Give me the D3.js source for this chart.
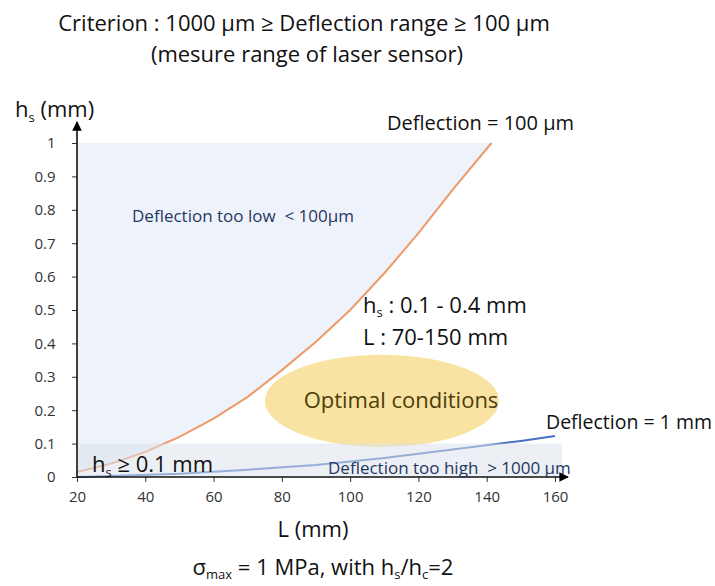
<!DOCTYPE html>
<html><head><meta charset="utf-8">
<script src="https://cdn.jsdelivr.net/npm/d3@7"></script>
<style>
body{margin:0;background:#fff;}
text{font-family:"Open Sans","Lato",sans-serif;white-space:pre;}
</style></head>
<body><svg id="c" width="715" height="586"></svg>
<script>
// ---- data ----
const xTicks = [20, 40, 60, 80, 100, 120, 140, 160];
const yTicks = [0, 0.1, 0.2, 0.3, 0.4, 0.5, 0.6, 0.7, 0.8, 0.9, 1];
const yTickLabels = ["0", "0.1", "0.2", "0.3", "0.4", "0.5", "0.6", "0.7", "0.8", "0.9", "1"];
const L100 = [20, 30, 40, 50, 60, 70, 80, 90, 100, 110, 120, 130, 141.4];
const hs100 = [0.015, 0.04, 0.075, 0.12, 0.175, 0.24, 0.32, 0.405, 0.5, 0.61, 0.73, 0.86, 1.0];
const L1mm = [20, 50, 70, 90, 110, 130, 150, 160];
const hs1mm = [0.0, 0.01, 0.022, 0.036, 0.057, 0.082, 0.108, 0.123];
const bandLimit = 0.1;
const optimal = {L: 109.3, hs: 0.228, dL: 34.3, dHs: 0.138};

const svg = d3.select("#c");
const x = d3.scaleLinear().domain([20, 160]).range([77, 555]);
const y = d3.scaleLinear().domain([0, 1]).range([477, 143]);

// light blue region (deflection too low)
const d100 = L100.map((l, i) => ({l, h: hs100[i]}));
svg.append("path").datum(d100)
  .attr("fill", "#eef3fb")
  .attr("d", d3.area().x(d => x(d.l)).y0(d => y(d.h)).y1(y(1)));

// ellipse
svg.append("ellipse")
  .attr("cx", x(optimal.L)).attr("cy", y(optimal.hs))
  .attr("rx", x(optimal.L + optimal.dL) - x(optimal.L))
  .attr("ry", y(0) - y(optimal.dHs))
  .attr("fill", "#f8e3a3");

// curves
const line = d3.line().x(d => x(d.l)).y(d => y(d.h));
svg.append("path").datum(d100).attr("fill", "none")
  .attr("stroke", "#ee9a68").attr("stroke-width", 2).attr("d", line);
const d1 = L1mm.map((l, i) => ({l, h: hs1mm[i]}));
svg.append("path").datum(d1).attr("fill", "none")
  .attr("stroke", "#4472c4").attr("stroke-width", 2).attr("d", line);

// gray band (too high)
svg.append("rect").attr("x", x(20)).attr("y", y(bandLimit))
  .attr("width", x(162) - x(20)).attr("height", y(0) - y(bandLimit))
  .attr("fill", "#dde2ea").attr("opacity", 0.55);

// axes
const xAxis = d3.axisBottom(x).tickValues(xTicks).tickSize(5).tickSizeOuter(0);
const gx = svg.append("g").attr("transform", `translate(0,${y(0)})`).call(xAxis);
gx.select(".domain").remove();
gx.selectAll("text").style("font-size", "15px").attr("fill", "#333").attr("dy", "1.15em");
const yAxis = d3.axisLeft(y).tickValues(yTicks).tickFormat((d, i) => yTickLabels[i]).tickSize(5).tickSizeOuter(0);
const gy = svg.append("g").attr("transform", `translate(${x(20)},0)`).call(yAxis);
gy.select(".domain").remove();
gy.selectAll("text").style("font-size", "15px").attr("fill", "#333").attr("dx", "-0.9em");
svg.selectAll(".tick line").attr("stroke", "#333");

svg.append("defs").append("marker").attr("id", "arr").attr("viewBox", "0 0 10 10")
  .attr("refX", 9).attr("refY", 5).attr("markerWidth", 6).attr("markerHeight", 6)
  .attr("orient", "auto").append("path").attr("d", "M0,0L10,5L0,10z").attr("fill", "#000");
svg.append("line").attr("x1", x(20)).attr("x2", x(20)).attr("y1", y(0)).attr("y2", 122)
  .attr("stroke", "#111").attr("stroke-width", 1.6).attr("marker-end", "url(#arr)");
svg.append("line").attr("x1", x(20)).attr("x2", 568).attr("y1", y(0)).attr("y2", y(0))
  .attr("stroke", "#111").attr("stroke-width", 1.6).attr("marker-end", "url(#arr)");

// texts
function txt(t, px, py, size, anchor, fill) {
  return svg.append("text").attr("x", px).attr("y", py).attr("font-size", size)
    .attr("text-anchor", anchor || "start").attr("fill", fill || "#111").text(t);
}
txt("Criterion : 1000 µm ≥ Deflection range ≥ 100 µm", 304, 31, 22, "middle");
txt("(mesure range of laser sensor)", 307, 62, 22, "middle");

const hl = svg.append("text").attr("x", 15).attr("y", 117).attr("font-size", 22).attr("fill", "#111");
hl.append("tspan").text("h");
hl.append("tspan").attr("font-size", 13).attr("dy", 5).text("s");
hl.append("tspan").attr("dy", -5).text(" (mm)");

txt("L (mm)", 313, 537, 22, "middle");
const sg = svg.append("text").attr("x", 323).attr("y", 575).attr("font-size", 22).attr("text-anchor", "middle").attr("fill", "#111");
sg.append("tspan").text("σ");
sg.append("tspan").attr("font-size", 13).attr("dy", 4).text("max");
sg.append("tspan").attr("dy", -4).text(" = 1 MPa, with h");
sg.append("tspan").attr("font-size", 13).attr("dy", 4).text("s");
sg.append("tspan").attr("dy", -4).text("/h");
sg.append("tspan").attr("font-size", 13).attr("dy", 4).text("c");
sg.append("tspan").attr("dy", -4).text("=2");

txt("Deflection = 100 µm", 387, 130, 20);
txt("Deflection too low  < 100µm", 132, 222, 17, "start", "#1f3864");
const h1 = svg.append("text").attr("x", 363).attr("y", 313).attr("font-size", 22).attr("fill", "#111");
h1.append("tspan").text("h");
h1.append("tspan").attr("font-size", 13).attr("dy", 4).text("s");
h1.append("tspan").attr("dy", -4).text(" : 0.1 - 0.4 mm");
txt("L : 70-150 mm", 363, 345, 22);
txt("Optimal conditions", 401, 408, 22, "middle", "#4d3d0a");
txt("Deflection = 1 mm", 546, 429, 19.5);
const h2 = svg.append("text").attr("x", 92).attr("y", 472).attr("font-size", 22).attr("fill", "#111");
h2.append("tspan").text("h");
h2.append("tspan").attr("font-size", 13).attr("dy", 5).text("s");
h2.append("tspan").attr("dy", -5).text(" ≥ 0.1 mm");
txt("Deflection too high  > 1000 µm", 328, 474, 17, "start", "#1f3864");
</script></body></html>
